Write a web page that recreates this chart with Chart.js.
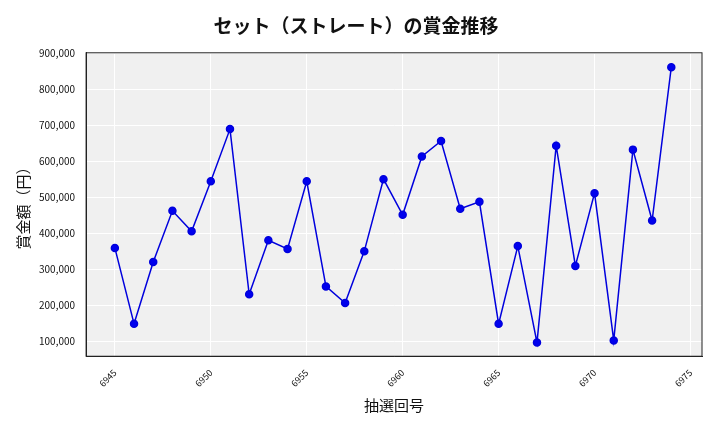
<!DOCTYPE html>
<html><head><meta charset="utf-8">
<script src="https://cdn.jsdelivr.net/npm/chart.js@4"></script>
<style>html,body{margin:0;padding:0;background:#fff}#w{width:720px;height:432px}</style>
</head><body><div id="w"><canvas id="c" width="720" height="432"></canvas></div>
<script>
const draws = [6945,6946,6947,6948,6949,6950,6951,6952,6953,6954,6955,6956,6957,6958,6959,6960,6961,6962,6963,6964,6965,6966,6967,6968,6969,6970,6971,6972,6973,6974];
const prizes = [360000,149000,321000,463000,406000,545000,690000,231000,381000,357000,545000,253000,207000,351000,551000,452000,614000,657000,469000,488000,149000,365000,97000,644000,310000,512000,103000,633000,436000,862000];
const title = 'セット（ストレート）の賞金推移';
const xLabel = '抽選回号';
const yLabel = '賞金額（円）';
const F = '"Noto Sans CJK JP", "Noto Sans", sans-serif';
const bg = {id:'bg',beforeDraw(ch){const a=ch.chartArea,c=ch.ctx;c.save();c.fillStyle='#f0f0f0';c.fillRect(a.left,a.top,a.right-a.left,a.bottom-a.top);c.restore();},
afterDraw(ch){const a=ch.chartArea,c=ch.ctx;c.save();c.strokeStyle='#222';c.lineWidth=1;c.strokeRect(a.left,a.top,a.right-a.left,a.bottom-a.top);c.restore();}};
new Chart(document.getElementById('c'),{
type:'line',
data:{datasets:[{data:draws.map((d,i)=>({x:d,y:prizes[i]})),borderColor:'#0000dd',backgroundColor:'#0000ee',borderWidth:1.5,pointRadius:3.5,pointHoverRadius:3.5,tension:0}]},
options:{responsive:false,animation:false,
layout:{padding:{left:10,right:18,top:8,bottom:14}},
plugins:{legend:{display:false},tooltip:{enabled:false},
title:{display:true,text:title,font:{family:F,size:19,weight:'bold'},color:'#111',padding:{top:6,bottom:16}}},
scales:{
x:{type:'linear',min:6943.5,max:6975.6,afterBuildTicks(ax){ax.ticks=[6945,6950,6955,6960,6965,6970,6975].map(v=>({value:v}));},
ticks:{maxRotation:45,minRotation:45,font:{family:F,size:9},color:'#111',callback:v=>String(v)},
grid:{color:'#ffffff',lineWidth:1},border:{color:'#222'},
title:{display:true,text:xLabel,font:{family:F,size:15},color:'#111'}},
y:{min:59000,max:902000,afterBuildTicks(ax){ax.ticks=[100000,200000,300000,400000,500000,600000,700000,800000,900000].map(v=>({value:v}));},
ticks:{font:{family:F,size:10},color:'#111',callback:v=>v.toLocaleString('en-US')},
grid:{color:'#ffffff',lineWidth:1},border:{color:'#222'},
title:{display:true,text:yLabel,font:{family:F,size:15},color:'#111'}}
}},
plugins:[bg]});
</script></body></html>
